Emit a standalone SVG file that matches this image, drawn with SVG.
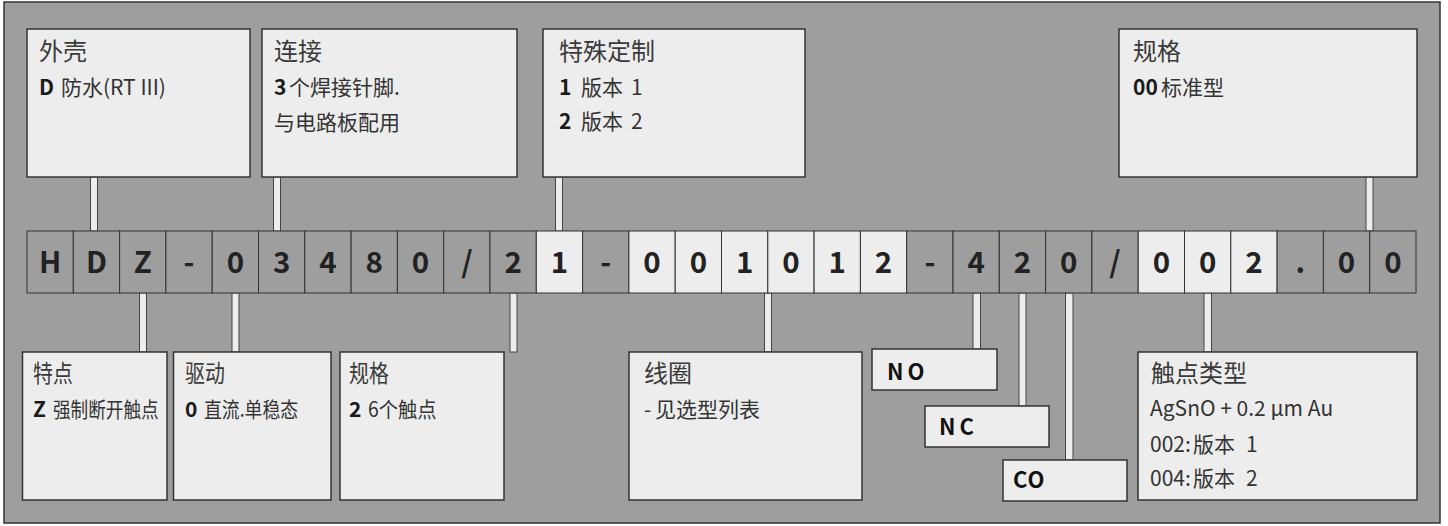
<svg xmlns="http://www.w3.org/2000/svg" width="1448" height="526" viewBox="0 0 1448 526">
<style>
text{font-family:"Noto Sans CJK SC","Noto Sans",sans-serif}
.frame{fill:#9e9e9e;stroke:#333;stroke-width:1.5}
.box{fill:#ededed;stroke:#333;stroke-width:1.5}
.cd{fill:#9e9e9e;stroke:#333;stroke-width:1}
.cl{fill:#ededed;stroke:#333;stroke-width:1}
.con{fill:#ededed;stroke:#444;stroke-width:1}
.ct{font-size:29.5px;font-weight:bold;fill:#222;text-anchor:middle}
.ti{font-size:24px;fill:#3a3a3a}
.tx{font-size:21px;fill:#333}
.b{font-weight:bold;fill:#1a1a1a}
.lab{font-size:22px;font-weight:bold;fill:#111}
</style>
<rect class="frame" x="4" y="2" width="1436" height="521"/>

<g id="connectors">
<rect class="con" x="90.5" y="177" width="7" height="54"/>
<rect class="con" x="273.5" y="177" width="7" height="54"/>
<rect class="con" x="555.5" y="177" width="7" height="54"/>
<rect class="con" x="1366" y="177" width="7" height="54"/>
<rect class="con" x="139.5" y="293" width="7" height="59"/>
<rect class="con" x="232" y="293" width="7" height="59"/>
<rect class="con" x="510" y="293" width="7" height="59"/>
<rect class="con" x="764.5" y="293" width="7" height="59"/>
<rect class="con" x="973" y="293" width="7.5" height="56"/>
<rect class="con" x="1019" y="293" width="7" height="113"/>
<rect class="con" x="1065.5" y="293" width="7.5" height="167"/>
<rect class="con" x="1204" y="293" width="7.5" height="59"/>
</g>

<g id="code">
<rect class="cd" x="27" y="231" width="46.3" height="62"/><text class="ct" x="50.15" y="273">H</text>
<rect class="cd" x="73.3" y="231" width="46.3" height="62"/><text class="ct" x="96.45" y="273">D</text>
<rect class="cd" x="119.6" y="231" width="46.3" height="62"/><text class="ct" x="142.75" y="273">Z</text>
<rect class="cd" x="165.9" y="231" width="46.3" height="62"/><text class="ct" x="189.05" y="273">-</text>
<rect class="cd" x="212.2" y="231" width="46.3" height="62"/><text class="ct" x="235.35" y="273">0</text>
<rect class="cd" x="258.5" y="231" width="46.3" height="62"/><text class="ct" x="281.65" y="273">3</text>
<rect class="cd" x="304.8" y="231" width="46.3" height="62"/><text class="ct" x="327.95" y="273">4</text>
<rect class="cd" x="351.1" y="231" width="46.3" height="62"/><text class="ct" x="374.25" y="273">8</text>
<rect class="cd" x="397.4" y="231" width="46.3" height="62"/><text class="ct" x="420.55" y="273">0</text>
<rect class="cd" x="443.7" y="231" width="46.3" height="62"/><text class="ct" x="466.85" y="273">/</text>
<rect class="cd" x="490" y="231" width="46.3" height="62"/><text class="ct" x="513.15" y="273">2</text>
<rect class="cl" x="536.3" y="231" width="46.3" height="62"/><text class="ct" x="559.45" y="273">1</text>
<rect class="cd" x="582.6" y="231" width="46.3" height="62"/><text class="ct" x="605.75" y="273">-</text>
<rect class="cl" x="628.9" y="231" width="46.3" height="62"/><text class="ct" x="652.05" y="273">0</text>
<rect class="cl" x="675.2" y="231" width="46.3" height="62"/><text class="ct" x="698.35" y="273">0</text>
<rect class="cl" x="721.5" y="231" width="46.3" height="62"/><text class="ct" x="744.65" y="273">1</text>
<rect class="cl" x="767.8" y="231" width="46.3" height="62"/><text class="ct" x="790.95" y="273">0</text>
<rect class="cl" x="814.1" y="231" width="46.3" height="62"/><text class="ct" x="837.25" y="273">1</text>
<rect class="cl" x="860.4" y="231" width="46.3" height="62"/><text class="ct" x="883.55" y="273">2</text>
<rect class="cd" x="906.7" y="231" width="46.3" height="62"/><text class="ct" x="929.85" y="273">-</text>
<rect class="cd" x="953" y="231" width="46.3" height="62"/><text class="ct" x="976.15" y="273">4</text>
<rect class="cd" x="999.3" y="231" width="46.3" height="62"/><text class="ct" x="1022.45" y="273">2</text>
<rect class="cd" x="1045.6" y="231" width="46.3" height="62"/><text class="ct" x="1068.75" y="273">0</text>
<rect class="cd" x="1091.9" y="231" width="46.3" height="62"/><text class="ct" x="1115.05" y="273">/</text>
<rect class="cl" x="1138.2" y="231" width="46.3" height="62"/><text class="ct" x="1161.35" y="273">0</text>
<rect class="cl" x="1184.5" y="231" width="46.3" height="62"/><text class="ct" x="1207.65" y="273">0</text>
<rect class="cl" x="1230.8" y="231" width="46.3" height="62"/><text class="ct" x="1253.95" y="273">2</text>
<rect class="cd" x="1277.1" y="231" width="46.3" height="62"/><text class="ct" x="1300.25" y="273">.</text>
<rect class="cd" x="1323.4" y="231" width="46.3" height="62"/><text class="ct" x="1346.55" y="273">0</text>
<rect class="cd" x="1369.7" y="231" width="46.3" height="62"/><text class="ct" x="1392.85" y="273">0</text>
</g>

<g id="housing">
<rect class="box" x="27" y="29" width="223" height="148"/>
<text class="ti" x="39" y="60">外壳</text>
<text class="tx" y="95"><tspan class="b" x="39">D</tspan><tspan x="61">防水(RT III)</tspan></text>
</g>
<g id="connection">
<rect class="box" x="262" y="29" width="255" height="148"/>
<text class="ti" x="274" y="60">连接</text>
<text class="tx" y="95"><tspan class="b" x="274">3</tspan><tspan x="289">个焊接针脚.</tspan></text>
<text class="tx" x="274" y="130">与电路板配用</text>
</g>
<g id="special">
<rect class="box" x="543" y="29" width="262" height="148"/>
<text class="ti" x="559" y="60">特殊定制</text>
<text class="tx" y="95"><tspan class="b" x="559">1</tspan><tspan x="581">版本</tspan><tspan x="631">1</tspan></text>
<text class="tx" y="129"><tspan class="b" x="559">2</tspan><tspan x="581">版本</tspan><tspan x="631">2</tspan></text>
</g>
<g id="spec-top">
<rect class="box" x="1119" y="29" width="298" height="148"/>
<text class="ti" x="1133" y="60">规格</text>
<text class="tx" y="95"><tspan class="b" x="1133">00</tspan><tspan x="1161">标准型</tspan></text>
</g>

<g id="feature">
<rect class="box" x="22.5" y="352" width="144.5" height="148"/>
<text class="ti" transform="translate(33 382) scale(0.83 1)">特点</text>
<text class="tx b" x="33" y="417">Z</text>
<text class="tx" transform="translate(53 417) scale(0.84 1)">强制断开触点</text>
</g>
<g id="drive">
<rect class="box" x="173.5" y="352" width="157.5" height="148"/>
<text class="ti" transform="translate(185 382) scale(0.83 1)">驱动</text>
<text class="tx b" x="185" y="417">0</text>
<text class="tx" transform="translate(204 417) scale(0.85 1)">直流.单稳态</text>
</g>
<g id="spec-bottom">
<rect class="box" x="340" y="352" width="164" height="148"/>
<text class="ti" transform="translate(349 382) scale(0.83 1)">规格</text>
<text class="tx b" x="349" y="417">2</text>
<text class="tx" transform="translate(368 417) scale(0.92 1)">6个触点</text>
</g>
<g id="coil">
<rect class="box" x="629" y="352" width="233" height="148"/>
<text class="ti" x="644" y="382">线圈</text>
<text class="tx" y="417"><tspan x="644">-</tspan><tspan x="655">见选型列表</tspan></text>
</g>
<g id="no">
<rect class="box" x="872" y="349" width="125" height="41"/>
<text class="lab" x="887" y="380" letter-spacing="4">NO</text>
</g>
<g id="nc">
<rect class="box" x="925" y="406" width="124" height="41"/>
<text class="lab" x="939" y="435" letter-spacing="4">NC</text>
</g>
<g id="co">
<rect class="box" x="1003" y="460" width="124" height="41"/>
<text class="lab" x="1013" y="488" letter-spacing="1">CO</text>
</g>
<g id="contact-type">
<rect class="box" x="1138" y="352" width="279" height="148"/>
<text class="ti" x="1151" y="382">触点类型</text>
<text class="tx" x="1150" y="416" font-size="20">AgSnO + 0.2 µm Au</text>
<text class="tx" y="452"><tspan x="1150">002:</tspan><tspan x="1193">版本</tspan><tspan x="1246">1</tspan></text>
<text class="tx" y="486"><tspan x="1150">004:</tspan><tspan x="1193">版本</tspan><tspan x="1246">2</tspan></text>
</g>
</svg>
